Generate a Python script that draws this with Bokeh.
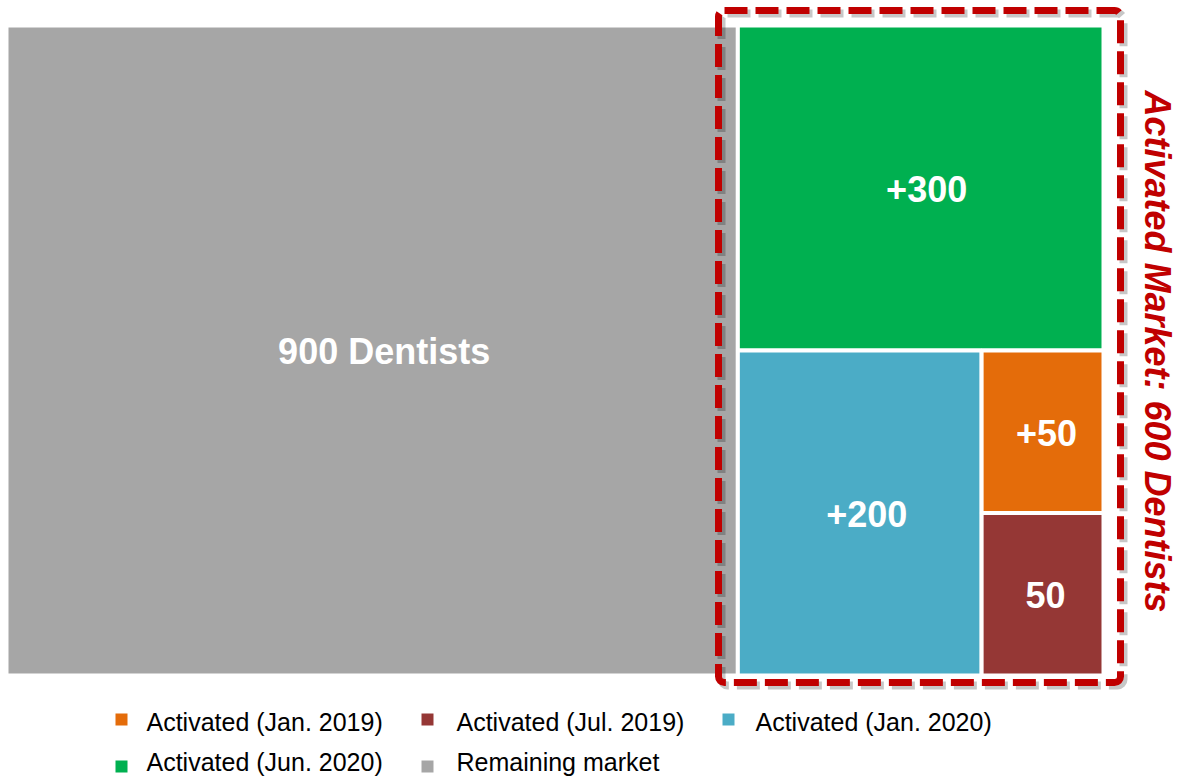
import math
from bokeh.plotting import figure
from bokeh.models import Range1d, Label, ColumnDataSource
from bokeh.core.properties import value
from bokeh.embed import file_html
from bokeh.resources import INLINE

# ---- data ----
categories = ["Remaining market", "Activated (Jun. 2020)", "Activated (Jan. 2020)",
              "Activated (Jan. 2019)", "Activated (Jul. 2019)"]
sizes = [1200, 300, 200, 50, 50]          # area weights
labels = ["900 Dentists", "+300", "+200", "+50", "50"]
colors = ["#A6A6A6", "#00B050", "#4BACC6", "#E46C0A", "#953735"]
legend_order = ["Activated (Jan. 2019)", "Activated (Jul. 2019)", "Activated (Jan. 2020)",
                "Activated (Jun. 2020)", "Remaining market"]
callout = "Activated Market: 600 Dentists"

# ---- layout (screen-pixel coordinates) ----
L, R, T, B = 6, 1103, 25, 675
rem, green, blue, orange, red = sizes
active = green + blue + orange + red
total = rem + active

xs = L + (R - L) * rem / total
yg = T + (B - T) * green / active
xb = xs + (R - xs) * blue / (blue + orange + red)
yo = yg + (B - yg) * orange / (orange + red)

lefts = [L, xs, xs, xb, xb]
rights = [xs, R, xb, R, R]
tops = [T, T, yg, yg, yo]
bottoms = [B, yg, B, yo, B]
label_dx = [12, 6, 7, 4, 3]

W, H = 1179, 776
p = figure(width=W, height=H, output_backend="svg", toolbar_location=None,
           x_range=Range1d(0, W), y_range=Range1d(H, 0),
           min_border=0, outline_line_color=None)
p.axis.visible = False
p.grid.visible = False
p.background_fill_color = "white"

src = ColumnDataSource(dict(left=lefts, right=rights, top=tops, bottom=bottoms,
                            color=colors, label=labels, xo=label_dx,
                            cx=[(a + b) / 2 for a, b in zip(lefts, rights)],
                            cy=[(a + b) / 2 for a, b in zip(tops, bottoms)]))
p.quad(left="left", right="right", top="top", bottom="bottom", source=src,
       fill_color="color", line_color="white", line_width=4)
p.text(x="cx", y="cy", text="label", source=src, text_color="white",
       text_font=value("Liberation Sans"), text_font_style="bold",
       text_font_size="36px", text_align="center", text_baseline="middle",
       x_offset="xo", y_offset=1)

# dashed callout box with shadow
bl, br, bt, bb = 718, 1120, 10, 682
p.quad(left=[bl + 3], right=[br + 3], top=[bt + 3], bottom=[bb + 3], fill_color=None,
       line_color="black", line_alpha=0.22, line_width=8, line_dash="23 8",
       border_radius=6)
p.quad(left=[bl], right=[br], top=[bt], bottom=[bb], fill_color=None,
       line_color="#C00000", line_width=7, line_dash="23 8", border_radius=6)

p.add_layout(Label(x=1157, y=351, text=callout, angle=-math.pi / 2,
                   text_color="#C00000", text_font="Liberation Sans",
                   text_font_style="bold italic", text_font_size="36px",
                   text_align="center", text_baseline="middle"))

# legend
col_marker = [121, 427, 728]
col_text = [146, 456, 755]
row_marker = [719, 766]
row_text = [721, 761]
mx, my, tx, ty, mc, lt = [], [], [], [], [], []
for i, name in enumerate(legend_order):
    r, c = divmod(i, 3)
    mx.append(col_marker[c]); my.append(row_marker[r])
    tx.append(col_text[c]); ty.append(row_text[r])
    mc.append(colors[categories.index(name)]); lt.append(name)
lsrc = ColumnDataSource(dict(mx=mx, my=my, tx=tx, ty=ty, color=mc, text=lt))
p.scatter(x="mx", y="my", source=lsrc, marker="square", size=12,
          fill_color="color", line_color=None)
p.text(x="tx", y="ty", text="text", source=lsrc, text_color="black",
       text_font=value("Liberation Sans"), text_font_size="25px",
       text_align="left", text_baseline="middle")

open("out.html", "w").write(file_html(p, INLINE))
